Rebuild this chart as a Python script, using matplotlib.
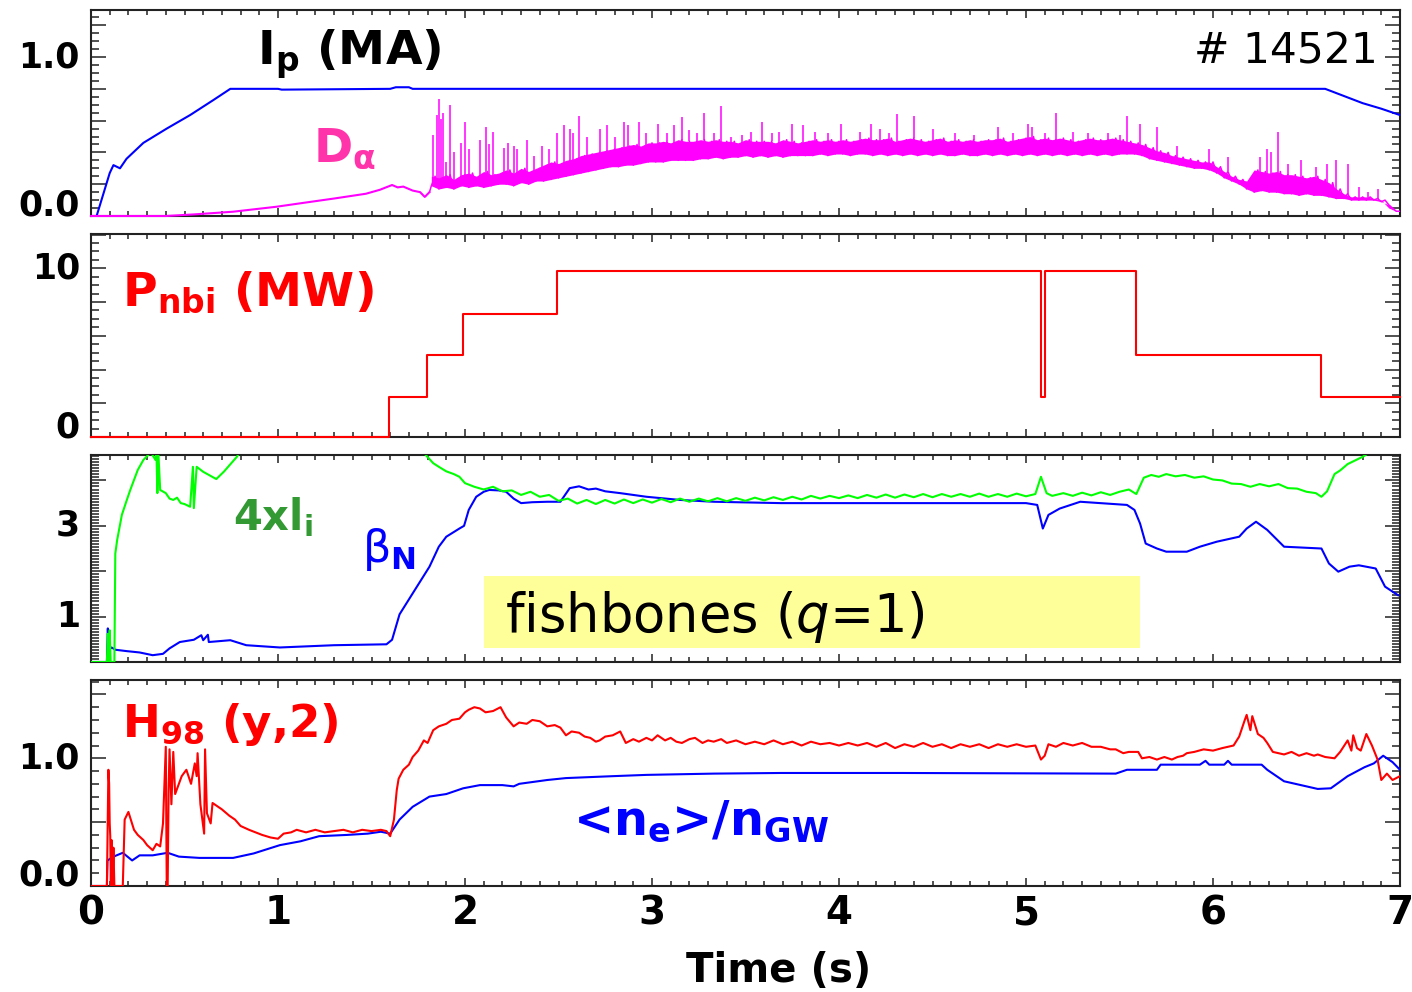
import numpy as np
import matplotlib
matplotlib.use('Agg')
import matplotlib.pyplot as plt
from matplotlib.ticker import FixedLocator, MultipleLocator, FuncFormatter
from matplotlib.patches import Rectangle

plt.rcParams['font.family'] = ['DejaVu Sans']
plt.rcParams['mathtext.fontset'] = 'custom'
plt.rcParams['mathtext.rm'] = 'DejaVu Sans'
plt.rcParams['mathtext.it'] = 'DejaVu Sans:italic'
plt.rcParams['mathtext.bf'] = 'DejaVu Sans:bold'
plt.rcParams['mathtext.default'] = 'regular'

# ---------------- data (time in s) ----------------
ip = [(0.0, 0.0), (0.03, 0.0), (0.10, 0.27), (0.12, 0.32), (0.155, 0.30), (0.19, 0.36),
      (0.28, 0.46), (0.405, 0.55), (0.53, 0.635), (0.655, 0.73), (0.745, 0.80), (1.0, 0.80),
      (1.02, 0.795), (1.60, 0.80), (1.63, 0.81), (1.70, 0.81), (1.72, 0.80), (6.60, 0.80),
      (6.70, 0.755), (6.80, 0.71), (6.90, 0.675), (7.00, 0.635)]

da_pre = [(0.00, 0.0), (0.40, 0.0), (0.55, 0.01), (0.76, 0.027), (0.99, 0.058), (1.15, 0.085),
          (1.30, 0.11), (1.47, 0.14), (1.545, 0.165), (1.61, 0.195), (1.64, 0.18), (1.67, 0.185),
          (1.72, 0.16), (1.76, 0.15), (1.785, 0.12), (1.81, 0.15)]
da_band_t0 = 1.82
da_band_dt = 0.02
da_band_v = [
    0.19, 0.25, 0.17, 0.24, 0.18, 0.26, 0.17, 0.23, 0.19, 0.26,
    0.18, 0.27, 0.19, 0.25, 0.18, 0.28, 0.19, 0.26, 0.20, 0.27,
    0.20, 0.29, 0.19, 0.27, 0.21, 0.30, 0.20, 0.28, 0.22, 0.30,
    0.22, 0.32, 0.23, 0.34, 0.24, 0.33, 0.25, 0.35, 0.26, 0.36,
    0.27, 0.38, 0.28, 0.39, 0.29, 0.40, 0.30, 0.41, 0.31, 0.42,
    0.31, 0.43, 0.32, 0.44, 0.32, 0.45, 0.33, 0.44, 0.34, 0.46,
    0.34, 0.46, 0.34, 0.47, 0.35, 0.46, 0.35, 0.48, 0.35, 0.47,
    0.35, 0.47, 0.36, 0.48, 0.36, 0.47, 0.37, 0.48, 0.36, 0.47,
    0.37, 0.47, 0.37, 0.46, 0.38, 0.48, 0.37, 0.47, 0.38, 0.47,
    0.37, 0.47, 0.38, 0.46, 0.37, 0.48, 0.38, 0.47, 0.38, 0.46,
    0.38, 0.47, 0.38, 0.48, 0.39, 0.47, 0.38, 0.48, 0.39, 0.47,
    0.39, 0.48, 0.38, 0.47, 0.39, 0.48, 0.39, 0.49, 0.38, 0.48,
    0.39, 0.48, 0.38, 0.49, 0.39, 0.47, 0.38, 0.48, 0.39, 0.49,
    0.38, 0.48, 0.39, 0.47, 0.38, 0.48, 0.39, 0.49, 0.38, 0.47,
    0.38, 0.48, 0.39, 0.47, 0.38, 0.48, 0.38, 0.47, 0.39, 0.48,
    0.38, 0.48, 0.39, 0.49, 0.38, 0.47, 0.39, 0.48, 0.38, 0.49,
    0.39, 0.50, 0.38, 0.48, 0.39, 0.49, 0.38, 0.48, 0.39, 0.49,
    0.38, 0.48, 0.39, 0.47, 0.38, 0.48, 0.39, 0.49, 0.38, 0.48,
    0.39, 0.48, 0.38, 0.49, 0.39, 0.48, 0.39, 0.47, 0.39, 0.46,
    0.38, 0.45, 0.36, 0.43, 0.35, 0.41, 0.34, 0.40, 0.33, 0.38,
    0.32, 0.37, 0.31, 0.36, 0.30, 0.35, 0.30, 0.34, 0.29, 0.34,
    0.27, 0.31, 0.24, 0.28, 0.22, 0.25, 0.20, 0.23, 0.17, 0.22,
    0.15, 0.29, 0.16, 0.28, 0.15, 0.27, 0.15, 0.28, 0.14, 0.26,
    0.14, 0.26, 0.13, 0.25, 0.14, 0.24, 0.13, 0.25, 0.13, 0.23,
    0.12, 0.21, 0.11, 0.17, 0.11, 0.14, 0.10, 0.12, 0.10, 0.12,
    0.10, 0.12, 0.10, 0.11, 0.09, 0.10, 0.07, 0.05, 0.03, 0.03]
da_spikes = [(1.83, .51), (1.85, .635), (1.86, .735), (1.87, .61), (1.88, .65), (1.90, .34),
             (1.92, .70), (1.94, .40), (1.98, .46), (2.00, .59), (2.02, .42), (2.08, .48),
             (2.11, .56), (2.13, .45), (2.15, .53), (2.21, .43), (2.23, .46), (2.26, .44),
             (2.28, .42), (2.33, .48), (2.37, .38), (2.41, .44), (2.45, .42), (2.49, .52),
             (2.53, .57), (2.56, .55), (2.58, .52), (2.61, .63), (2.65, .50), (2.72, .55),
             (2.76, .57), (2.80, .50), (2.85, .59), (2.87, .57), (2.93, .59), (2.97, .52),
             (3.03, .58), (3.08, .52), (3.12, .57), (3.16, .62), (3.20, .54), (3.24, .52),
             (3.28, .65), (3.33, .52), (3.37, .69), (3.42, .50), (3.48, .51), (3.53, .53),
             (3.59, .59), (3.64, .52), (3.68, .53), (3.75, .58), (3.81, .57), (3.87, .53),
             (3.94, .52), (4.01, .58), (4.11, .53), (4.17, .58), (4.22, .55), (4.27, .52),
             (4.31, .64), (4.40, .63), (4.50, .55), (4.62, .52), (4.72, .51), (4.85, .56),
             (4.93, .52), (5.01, .58), (5.03, .56), (5.10, .52), (5.16, .65), (5.25, .53),
             (5.33, .52), (5.44, .52), (5.50, .51), (5.54, .63), (5.61, .58), (5.70, .56),
             (5.81, .44), (5.98, .42), (6.08, .37), (6.25, .37), (6.29, .42), (6.31, .40),
             (6.35, .53), (6.40, .33), (6.47, .35), (6.55, .31), (6.61, .33), (6.66, .35),
             (6.72, .33), (6.78, .18), (6.83, .15), (6.88, .17)]

pnbi_t = [0.0, 1.595, 1.795, 1.99, 2.49, 5.08, 5.10, 5.59, 6.58, 7.0]
pnbi_v = [0.0, 2.40, 4.85, 7.30, 9.85, 2.40, 9.85, 4.85, 2.40, 2.40]

betan = [(0.00, 0.0), (0.085, 0.0), (0.09, 0.74), (0.093, 0.35), (0.097, 0.60), (0.10, 0.33),
         (0.105, 0.30), (0.11, 0.32), (0.13, 0.27), (0.19, 0.24), (0.26, 0.21), (0.33, 0.15),
         (0.385, 0.18), (0.42, 0.30), (0.475, 0.44), (0.55, 0.49), (0.59, 0.59), (0.60, 0.48),
         (0.625, 0.60), (0.63, 0.44), (0.745, 0.48), (0.83, 0.37), (1.01, 0.32), (1.30, 0.37),
         (1.58, 0.39), (1.61, 0.49), (1.65, 1.05), (1.72, 1.51), (1.81, 2.10), (1.86, 2.54),
         (1.90, 2.76), (1.97, 2.94), (1.995, 3.00), (2.02, 3.35), (2.06, 3.64), (2.10, 3.75),
         (2.13, 3.79), (2.18, 3.78), (2.22, 3.75), (2.26, 3.60), (2.30, 3.50), (2.36, 3.52),
         (2.44, 3.53), (2.51, 3.53), (2.56, 3.83), (2.61, 3.87), (2.66, 3.80), (2.70, 3.82),
         (2.75, 3.76), (2.83, 3.72), (2.90, 3.68), (2.97, 3.64), (3.15, 3.57), (3.33, 3.53),
         (3.69, 3.50), (4.04, 3.50), (4.33, 3.50), (5.00, 3.50), (5.06, 3.46), (5.09, 2.94),
         (5.12, 3.24), (5.18, 3.38), (5.29, 3.53), (5.54, 3.46), (5.58, 3.35), (5.61, 3.05),
         (5.64, 2.61), (5.70, 2.50), (5.75, 2.43), (5.86, 2.43), (5.93, 2.54), (6.02, 2.65),
         (6.14, 2.76), (6.18, 2.94), (6.23, 3.09), (6.29, 2.91), (6.38, 2.54), (6.58, 2.50),
         (6.62, 2.17), (6.67, 1.99), (6.73, 2.10), (6.78, 2.13), (6.87, 2.06), (6.92, 1.66),
         (6.99, 1.47)]

li4 = [(0.00, 0.0), (0.085, 0.0), (0.09, 0.62), (0.095, 0.0), (0.10, 0.70), (0.105, 0.0),
       (0.125, 0.0), (0.13, 2.39), (0.14, 2.69), (0.165, 3.24), (0.19, 3.55), (0.21, 3.79),
       (0.25, 4.23), (0.28, 4.45), (0.32, 4.62), (0.345, 4.45), (0.35, 4.62), (0.355, 3.72),
       (0.36, 4.62), (0.37, 3.79), (0.40, 3.72), (0.42, 3.60), (0.44, 3.57), (0.46, 3.62),
       (0.48, 3.50), (0.50, 3.48), (0.53, 3.42), (0.545, 4.30), (0.55, 3.39), (0.565, 4.30),
       (0.60, 4.19), (0.64, 4.10), (0.67, 4.03), (0.71, 4.19), (0.78, 4.52), (0.82, 4.80),
       (1.70, 4.90), (1.79, 4.56), (1.83, 4.38), (1.86, 4.30), (1.90, 4.20), (1.94, 4.14),
       (1.97, 4.08), (2.00, 3.94), (2.05, 3.86), (2.10, 3.80), (2.15, 3.86), (2.20, 3.76),
       (2.25, 3.78), (2.30, 3.68), (2.35, 3.75), (2.40, 3.64), (2.45, 3.68), (2.50, 3.55),
       (2.55, 3.60), (2.60, 3.49), (2.65, 3.57), (2.70, 3.48), (2.75, 3.57), (2.80, 3.49),
       (2.85, 3.58), (2.90, 3.50), (2.95, 3.58), (3.00, 3.51), (3.05, 3.59), (3.10, 3.52),
       (3.15, 3.60), (3.20, 3.53), (3.25, 3.60), (3.30, 3.54), (3.35, 3.61), (3.40, 3.54),
       (3.45, 3.61), (3.50, 3.55), (3.55, 3.62), (3.60, 3.56), (3.65, 3.63), (3.70, 3.57),
       (3.75, 3.64), (3.80, 3.58), (3.85, 3.66), (3.90, 3.60), (3.95, 3.66), (4.00, 3.61),
       (4.05, 3.67), (4.10, 3.61), (4.15, 3.68), (4.20, 3.62), (4.25, 3.69), (4.30, 3.62),
       (4.35, 3.69), (4.40, 3.63), (4.45, 3.70), (4.50, 3.63), (4.55, 3.70), (4.60, 3.64),
       (4.65, 3.70), (4.70, 3.64), (4.75, 3.71), (4.80, 3.64), (4.85, 3.70), (4.90, 3.64),
       (4.95, 3.71), (5.00, 3.65), (5.05, 3.70), (5.08, 4.08), (5.11, 3.72), (5.14, 3.66),
       (5.20, 3.72), (5.25, 3.66), (5.30, 3.73), (5.35, 3.67), (5.40, 3.74), (5.45, 3.68),
       (5.50, 3.75), (5.55, 3.80), (5.59, 3.70), (5.63, 4.06), (5.67, 4.12), (5.71, 4.08),
       (5.75, 4.14), (5.80, 4.09), (5.85, 4.12), (5.90, 4.06), (5.95, 4.09), (6.00, 4.02),
       (6.05, 4.00), (6.10, 3.93), (6.15, 3.92), (6.20, 3.86), (6.25, 3.92), (6.30, 3.87),
       (6.35, 3.92), (6.40, 3.83), (6.45, 3.82), (6.50, 3.75), (6.55, 3.72), (6.58, 3.64),
       (6.61, 3.76), (6.65, 4.14), (6.68, 4.22), (6.72, 4.36), (6.76, 4.44), (6.80, 4.52),
       (6.84, 4.62), (7.00, 4.90)]

h98 = [(0.00, 0.0), (0.085, 0.0), (0.093, 0.91), (0.097, 0.80), (0.10, 0.49), (0.103, 0.39),
       (0.106, 0.0), (0.11, 0.36), (0.115, 0.0), (0.12, 0.30), (0.125, 0.0), (0.17, 0.0),
       (0.18, 0.52), (0.20, 0.58), (0.23, 0.44), (0.25, 0.40), (0.28, 0.36), (0.30, 0.32),
       (0.33, 0.28), (0.35, 0.33), (0.37, 0.31), (0.385, 0.49), (0.40, 1.09), (0.405, 0.0),
       (0.41, 0.0), (0.415, 0.75), (0.42, 1.07), (0.43, 0.64), (0.44, 1.05), (0.45, 0.72),
       (0.47, 0.80), (0.485, 0.86), (0.51, 0.91), (0.535, 0.80), (0.555, 0.96), (0.565, 0.86),
       (0.57, 1.04), (0.585, 0.64), (0.605, 0.41), (0.61, 1.07), (0.62, 0.57), (0.64, 0.49),
       (0.65, 0.65), (0.68, 0.62), (0.70, 0.60), (0.74, 0.55), (0.77, 0.52), (0.80, 0.47),
       (0.845, 0.44), (0.88, 0.42), (0.915, 0.40), (0.96, 0.38), (1.00, 0.37), (1.03, 0.41),
       (1.07, 0.42), (1.10, 0.44), (1.15, 0.42), (1.20, 0.44), (1.25, 0.42), (1.30, 0.43),
       (1.35, 0.44), (1.40, 0.42), (1.45, 0.44), (1.50, 0.43), (1.55, 0.44), (1.58, 0.43),
       (1.60, 0.39), (1.62, 0.52), (1.635, 0.75), (1.645, 0.84), (1.67, 0.91), (1.70, 0.95),
       (1.72, 1.01), (1.75, 1.06), (1.78, 1.14), (1.80, 1.12), (1.83, 1.22), (1.86, 1.25),
       (1.90, 1.27), (1.93, 1.30), (1.97, 1.31), (2.00, 1.36), (2.02, 1.38), (2.05, 1.40),
       (2.08, 1.39), (2.11, 1.36), (2.15, 1.37), (2.19, 1.40), (2.22, 1.32), (2.26, 1.25),
       (2.29, 1.28), (2.33, 1.27), (2.36, 1.30), (2.40, 1.29), (2.44, 1.25), (2.48, 1.26),
       (2.51, 1.24), (2.54, 1.18), (2.57, 1.21), (2.61, 1.20), (2.64, 1.17), (2.67, 1.16),
       (2.70, 1.13), (2.72, 1.14), (2.75, 1.17), (2.79, 1.18), (2.83, 1.21), (2.86, 1.12),
       (2.90, 1.15), (2.93, 1.13), (2.97, 1.16), (3.00, 1.14), (3.03, 1.18), (3.07, 1.14),
       (3.10, 1.16), (3.13, 1.13), (3.16, 1.12), (3.20, 1.15), (3.23, 1.16), (3.27, 1.12),
       (3.30, 1.14), (3.33, 1.13), (3.37, 1.15), (3.40, 1.12), (3.45, 1.14), (3.50, 1.11),
       (3.55, 1.13), (3.60, 1.11), (3.65, 1.14), (3.70, 1.11), (3.75, 1.13), (3.80, 1.10),
       (3.85, 1.13), (3.90, 1.11), (3.95, 1.12), (4.00, 1.10), (4.05, 1.12), (4.10, 1.10),
       (4.15, 1.12), (4.20, 1.09), (4.25, 1.12), (4.30, 1.08), (4.35, 1.11), (4.40, 1.09),
       (4.45, 1.12), (4.50, 1.09), (4.55, 1.11), (4.60, 1.08), (4.65, 1.11), (4.70, 1.09),
       (4.75, 1.11), (4.80, 1.08), (4.85, 1.11), (4.90, 1.09), (4.95, 1.11), (5.00, 1.09),
       (5.05, 1.10), (5.08, 0.99), (5.10, 1.02), (5.12, 1.11), (5.16, 1.09), (5.20, 1.12),
       (5.25, 1.10), (5.30, 1.12), (5.35, 1.09), (5.40, 1.09), (5.45, 1.07), (5.48, 1.07),
       (5.52, 1.04), (5.55, 1.05), (5.60, 1.05), (5.62, 1.00), (5.66, 1.01), (5.70, 0.99),
       (5.74, 1.01), (5.78, 0.99), (5.81, 1.01), (5.84, 1.02), (5.86, 1.04), (5.90, 1.05),
       (5.95, 1.07), (6.00, 1.06), (6.05, 1.08), (6.11, 1.10), (6.14, 1.17), (6.17, 1.30),
       (6.18, 1.34), (6.20, 1.22), (6.21, 1.33), (6.24, 1.19), (6.27, 1.16), (6.29, 1.12),
       (6.32, 1.05), (6.35, 1.04), (6.38, 1.03), (6.42, 1.05), (6.46, 1.02), (6.50, 1.04),
       (6.54, 1.02), (6.56, 1.03), (6.60, 1.01), (6.65, 1.00), (6.68, 1.05), (6.72, 1.14),
       (6.74, 1.06), (6.75, 1.18), (6.77, 1.08), (6.79, 1.06), (6.82, 1.19), (6.85, 1.10),
       (6.88, 0.99), (6.90, 0.83), (6.93, 0.88), (6.96, 0.83), (7.00, 0.86)]

ne_ngw = [(0.00, 0.0), (0.085, 0.0), (0.088, 0.20), (0.12, 0.23), (0.17, 0.26), (0.22, 0.20),
          (0.26, 0.24), (0.33, 0.24), (0.41, 0.26), (0.47, 0.23), (0.58, 0.22), (0.76, 0.22),
          (0.87, 0.255), (1.01, 0.32), (1.12, 0.35), (1.22, 0.39), (1.37, 0.40), (1.48, 0.41),
          (1.55, 0.425), (1.60, 0.41), (1.65, 0.52), (1.72, 0.62), (1.81, 0.70), (1.90, 0.72),
          (1.99, 0.765), (2.08, 0.79), (2.20, 0.79), (2.26, 0.78), (2.29, 0.80), (2.44, 0.83),
          (2.54, 0.845), (2.79, 0.86), (2.97, 0.87), (3.33, 0.88), (3.69, 0.885), (4.33, 0.885),
          (5.48, 0.88), (5.54, 0.91), (5.70, 0.91), (5.72, 0.95), (5.81, 0.95), (5.93, 0.95),
          (5.96, 0.98), (5.98, 0.95), (6.06, 0.95), (6.08, 0.98), (6.10, 0.95), (6.26, 0.95),
          (6.29, 0.91), (6.38, 0.82), (6.47, 0.79), (6.56, 0.76), (6.63, 0.765), (6.72, 0.86),
          (6.81, 0.93), (6.86, 0.96), (6.91, 1.02), (6.96, 0.97), (7.00, 0.91)]

fishbone_window = (2.10, 5.61)   # time span of the highlighted box
fishbone_yspan = (0.30, 1.90)

x_ticklabels = ['0', '1', '2', '3', '4', '5', '6', '7']

# ---------------- figure ----------------
W, H = 1412, 992
fig = plt.figure(figsize=(W / 100, H / 100), dpi=100)

def rect(top, bottom, left=91, right=1400):
    return [left / W, 1 - bottom / H, (right - left) / W, (bottom - top) / H]

ax1 = fig.add_axes(rect(10, 216))
ax2 = fig.add_axes(rect(234, 437))
ax3 = fig.add_axes(rect(455, 662))
ax4 = fig.add_axes(rect(680, 886))

FRAME = '#222222'

def style(ax, ymax, ymaj, ymin, ylabels, bottom_labels=False):
    ax.set_xlim(0, 7)
    ax.set_ylim(0, ymax)
    ax.xaxis.set_major_locator(FixedLocator(np.arange(0, 8)))
    ax.xaxis.set_minor_locator(MultipleLocator(0.1))
    ylocs = np.arange(0, ymax + 1e-9, ymaj)
    ax.yaxis.set_major_locator(FixedLocator(ylocs))
    ax.yaxis.set_minor_locator(MultipleLocator(ymin))
    ax.yaxis.set_major_formatter(FuncFormatter(lambda v, p: ylabels.get(round(v, 3), '')))
    ax.xaxis.set_major_formatter(FuncFormatter(lambda v, p: x_ticklabels[int(round(v))]))
    ax.tick_params(axis='both', which='both', direction='in', top=True, right=True,
                   color=FRAME, width=1.1)
    ax.tick_params(axis='x', which='major', length=6.0)
    ax.tick_params(axis='x', which='minor', length=3.6)
    ax.tick_params(axis='y', which='major', length=10.8, pad=8, labelsize=25)
    ax.tick_params(axis='y', which='minor', length=5.8)
    ax.tick_params(axis='x', labelbottom=bottom_labels, labelsize=28, pad=6)
    for lab in ax.get_yticklabels() + ax.get_xticklabels():
        lab.set_fontweight('bold')
    for tk, loc in zip(ax.yaxis.get_major_ticks(), ylocs):
        tk.label1.set_verticalalignment('baseline' if loc == 0 else 'center')
    for s in ax.spines.values():
        s.set_color(FRAME)
        s.set_linewidth(1.5)

style(ax1, 1.296, 0.2, 0.05, {0.0: '0.0', 1.0: '1.0'})
style(ax2, 12.03, 2, 0.5, {0.0: '0', 10.0: '10'})
style(ax3, 4.56, 1, 1 / 15, {1.0: '1', 3.0: '3'})
style(ax4, 1.613, 0.5, 0.1, {0.0: '0.0', 1.0: '1.0'}, bottom_labels=True)

LW = 1.5
MAG = '#ff00ff'
# panel 1
t, v = np.array(ip).T
ax1.plot(t, v, color='#0000ff', lw=LW, zorder=3)
t, v = np.array(da_pre).T
ax1.plot(t, v, color=MAG, lw=LW, zorder=3, clip_on=False)
band_t = da_band_t0 + da_band_dt * np.arange(len(da_band_v))
band_v = np.array(da_band_v)
ax1.fill_between(band_t[0::2], band_v[0::2], band_v[1::2], color=MAG, lw=0, zorder=2.8)
ax1.plot(np.r_[t[-1], band_t], np.r_[v[-1], band_v], color=MAG, lw=1.1, zorder=3)
st, sv = np.array(da_spikes).T
ax1.vlines(st, np.interp(st, band_t, band_v), sv, color=MAG, lw=1.1, zorder=3)
ax1.text(0.888, 0.95, r'I$_{p}$ (MA)', fontsize=34, fontweight='bold', color='black',
         va='baseline')
ax1.text(1.187, 0.34, r'D$_{\mathregular{α}}$', fontsize=34, fontweight='bold',
         color='#ff33aa', va='baseline')
ax1.text(6.882, 0.962, '# 14521', fontsize=30.5, color='black', ha='right', va='baseline')

# panel 2
ax2.plot(pnbi_t, pnbi_v, drawstyle='steps-post', color='#ff0000', lw=LW, zorder=3,
         clip_on=False)
ax2.text(0.166, 7.82, r'P$_{nbi}$ (MW)', fontsize=34, fontweight='bold', color='#ff0000',
         va='baseline')

# panel 3
ax3.add_patch(Rectangle((fishbone_window[0], fishbone_yspan[0]),
                        fishbone_window[1] - fishbone_window[0],
                        fishbone_yspan[1] - fishbone_yspan[0],
                        facecolor='#ffff99', edgecolor='none', zorder=1))
t, v = np.array(betan).T
ax3.plot(t, v, color='#0000ff', lw=LW, zorder=3)
t, v = np.array(li4).T
ax3.plot(t, v, color='#00ff00', lw=LW, zorder=3)
ax3.text(0.759, 2.91, r'4xl$_{i}$', fontsize=30, fontweight='bold', color='#339933',
         va='baseline')
ax3.text(1.449, 2.21, r'$\mathrm{β}_{N}$', fontsize=32, fontweight='bold', color='#0000ff',
         va='baseline')
ax3.text(2.214, 0.656, r'fishbones ($\mathit{q}$=1)', fontsize=38, color='black',
         va='baseline', zorder=4)

# panel 4
t, v = np.array(ne_ngw).T
ax4.plot(t, v, color='#0000ff', lw=LW, zorder=3)
t, v = np.array(h98).T
ax4.plot(t, v, color='#ff0000', lw=LW, zorder=3)
ax4.text(0.166, 1.167, r'H$_{98}$ (y,2)', fontsize=32.5, fontweight='bold', color='#ff0000',
         va='baseline')
ax4.text(2.578, 0.40, r'<n$_{e}$>/n$_{GW}$', fontsize=34.5, fontweight='bold',
         color='#0000ff', va='baseline')

fig.text(779 / W, 1 - 982 / H, 'Time (s)', fontsize=29, fontweight='bold', ha='center',
         va='baseline')

fig.savefig('out.png', dpi=100)
